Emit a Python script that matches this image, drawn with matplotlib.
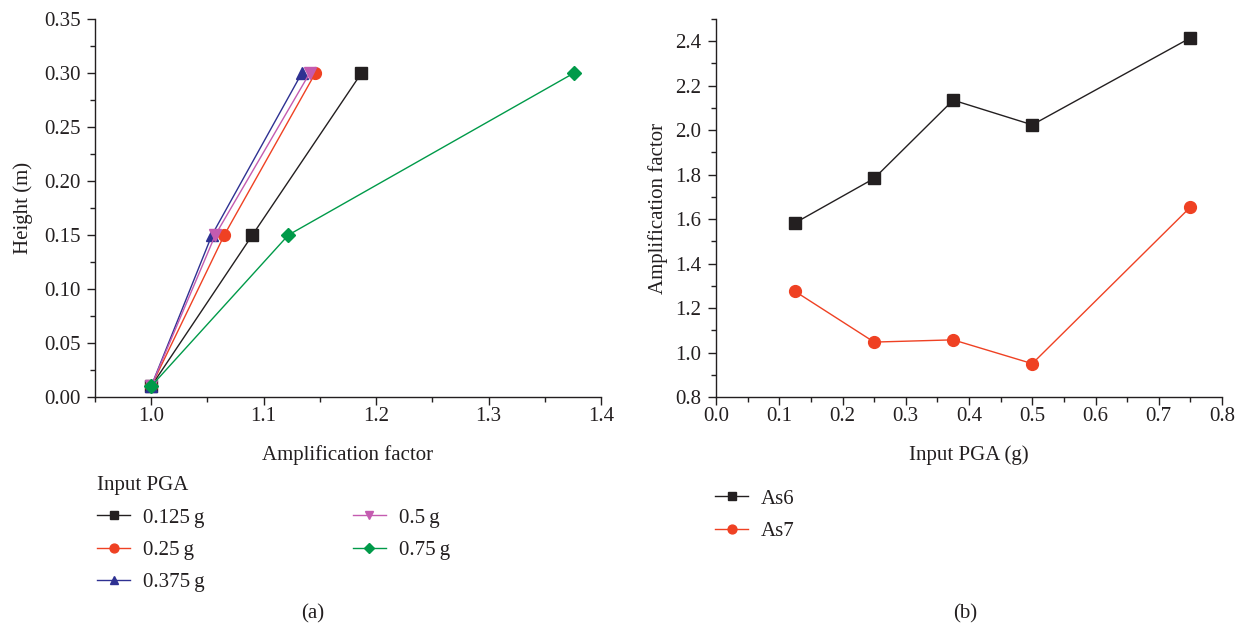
import matplotlib.pyplot as plt
from matplotlib.ticker import MultipleLocator

plt.rcParams['font.family'] = ['Liberation Serif', 'DejaVu Serif']

# (a) amplification along height for each input PGA
heights = [0.01, 0.15, 0.30]
pga_labels = ['0.125\u2009g', '0.25\u2009g', '0.375\u2009g', '0.5\u2009g', '0.75\u2009g']
amp_0125 = [1.0, 1.090, 1.187]
amp_025 = [1.0, 1.065, 1.146]
amp_0375 = [1.0, 1.054, 1.134]
amp_05 = [1.0, 1.057, 1.141]
amp_075 = [1.0, 1.122, 1.376]

# (b) amplification factor vs input PGA at two sensors
pga = [0.125, 0.25, 0.375, 0.5, 0.75]
as6 = [1.583, 1.783, 2.135, 2.024, 2.415]
as7 = [1.275, 1.047, 1.057, 0.950, 1.654]

black = '#231f20'
red = '#ef4123'
blue = '#2e3192'
pink = '#c45bb0'
green = '#009a49'

fs = 15
fig = plt.figure(figsize=(12.45, 6.29), dpi=100)
W, H = 1245, 629


def axes_px(x0, y0, x1, y1):
    return fig.add_axes([x0 / W, 1 - y1 / H, (x1 - x0) / W, (y1 - y0) / H])


def style(ax):
    for s in ['top', 'right']:
        ax.spines[s].set_visible(False)
    for s in ['left', 'bottom']:
        ax.spines[s].set_linewidth(1.0)
        ax.spines[s].set_color(black)
    ax.tick_params(which='major', direction='out', length=5.5, width=1.0,
                   labelsize=fs, colors=black)
    ax.tick_params(which='minor', direction='out', length=3.5, width=1.0, colors=black)
    ax.tick_params(axis='x', which='major', pad=1.5)
    ax.tick_params(axis='y', which='major', pad=5)


lw = 1.0
ax1 = axes_px(95, 19, 601, 397)
series = [(amp_0125, black, 's', 8), (amp_025, red, 'o', 8.5),
          (amp_0375, blue, '^', 8.5), (amp_05, pink, 'v', 8.5),
          (amp_075, green, 'D', 7)]
for (vals, c, m, ms), lab in zip(series, pga_labels):
    ax1.plot(vals, heights, color=c, marker=m, markersize=ms, linewidth=lw, label=lab)
ax1.set_xlim(0.95, 1.4)
ax1.set_ylim(0, 0.35)
ax1.xaxis.set_major_locator(MultipleLocator(0.1))
ax1.xaxis.set_minor_locator(MultipleLocator(0.05))
ax1.yaxis.set_major_locator(MultipleLocator(0.05))
ax1.yaxis.set_minor_locator(MultipleLocator(0.025))
ax1.xaxis.set_major_formatter(plt.FormatStrFormatter('%.1f'))
ax1.yaxis.set_major_formatter(plt.FormatStrFormatter('%.2f'))
style(ax1)
ax1.set_xlabel('Amplification factor', fontsize=fs, color=black, labelpad=14)
ax1.set_ylabel('Height (m)', fontsize=fs, color=black, labelpad=8)

leg1 = ax1.legend(loc='upper left', bbox_to_anchor=(97 / W, 1 - 476 / H),
                  bbox_transform=fig.transFigure, ncol=2, frameon=False,
                  title='Input PGA', alignment='left', fontsize=fs,
                  title_fontsize=fs, handlelength=1.6, handletextpad=0.62,
                  labelspacing=0.62, columnspacing=7.1, borderpad=0,
                  borderaxespad=0, markerscale=0.75)
for t in leg1.get_texts():
    t.set_color(black)
leg1.get_title().set_color(black)

ax2 = axes_px(716, 19, 1222, 397)
ax2.plot(pga, as6, color=black, marker='s', markersize=8, linewidth=lw, label='As6')
ax2.plot(pga, as7, color=red, marker='o', markersize=8.5, linewidth=lw, label='As7')
ax2.set_xlim(0, 0.8)
ax2.set_ylim(0.8, 2.5)
ax2.xaxis.set_major_locator(MultipleLocator(0.1))
ax2.xaxis.set_minor_locator(MultipleLocator(0.05))
ax2.yaxis.set_minor_locator(MultipleLocator(0.1))
ax2.xaxis.set_major_formatter(plt.FormatStrFormatter('%.1f'))
ax2.yaxis.set_major_formatter(plt.FormatStrFormatter('%.1f'))
style(ax2)
ax2.set_yticks([0.8 + 0.2 * i for i in range(9)])
ax2.set_xlabel('Input PGA (g)', fontsize=fs, color=black, labelpad=14)
ax2.set_ylabel('Amplification factor', fontsize=fs, color=black, labelpad=5)

leg2 = ax2.legend(loc='upper left', bbox_to_anchor=(715 / W, 1 - 489 / H),
                  bbox_transform=fig.transFigure, frameon=False, fontsize=fs,
                  handlelength=1.6, handletextpad=0.62, labelspacing=0.62,
                  borderpad=0, borderaxespad=0, markerscale=0.75)
for t in leg2.get_texts():
    t.set_color(black)

fig.text(313 / W, 1 - 614 / H, '(a)', fontsize=fs, ha='center', va='center', color=black)
fig.text(965 / W, 1 - 614 / H, '(b)', fontsize=fs, ha='center', va='center', color=black)

fig.savefig('out.png', dpi=100)
